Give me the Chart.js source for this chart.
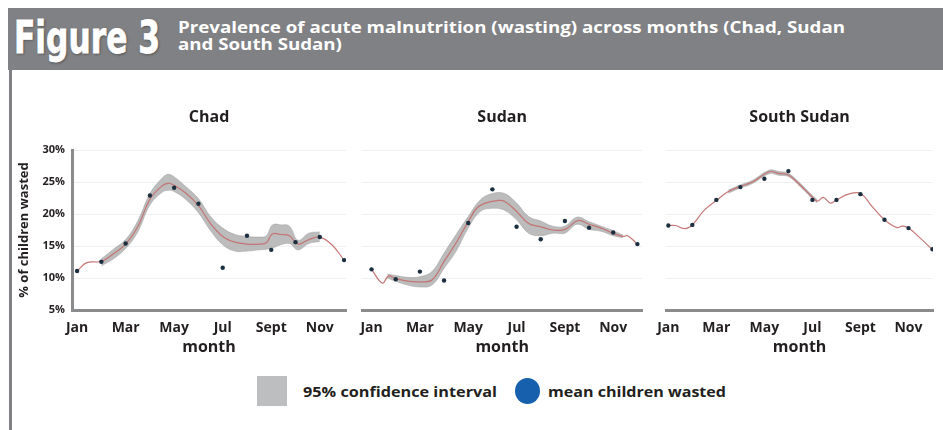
<!DOCTYPE html>
<html>
<head>
<meta charset="utf-8">
<script src="https://cdn.jsdelivr.net/npm/chart.js@4.4.1/dist/chart.umd.min.js"></script>
<style>
  html, body { margin:0; padding:0; background:#fff; }
  body { width:943px; height:430px; position:relative; overflow:hidden; font-family:'Open Sans', sans-serif; color:#231f20; }
  #band { position:absolute; left:8px; top:8px; right:0; height:62px; background:#808184; }
  #vline { position:absolute; left:9px; top:70px; width:3px; height:360px; background:#808184; }
  #fig { position:absolute; left:14px; top:16px; font-family:'Liberation Sans Narrow','DejaVu Sans Condensed',sans-serif; font-weight:bold; font-size:44px; line-height:44px; color:#fff; white-space:nowrap; transform-origin:0 0; text-shadow:1px 1px 3px rgba(0,0,0,0.45); -webkit-text-stroke:0.8px #fff; }
  #sub { position:absolute; left:178px; top:19px; font-weight:bold; font-size:16px; line-height:17px; color:#fff; white-space:nowrap; transform-origin:0 0; }
  canvas { position:absolute; }
  .leg { position:absolute; font-weight:bold; font-size:15px; line-height:20px; white-space:nowrap; transform-origin:0 50%; color:#231f20; }
</style>
</head>
<body>
<div id="band"></div>
<div id="vline"></div>
<div id="fig">Figure 3</div>
<div id="sub"><span id="sub1">Prevalence of acute malnutrition (wasting) across months (Chad, Sudan</span><br><span>and South Sudan)</span></div>

<canvas id="cChad" width="350" height="270" style="left:0px;top:90px;width:350px;height:270px"></canvas>
<canvas id="cSudan" width="296" height="270" style="left:350px;top:90px;width:296px;height:270px"></canvas>
<canvas id="cSouth" width="296" height="270" style="left:647px;top:90px;width:296px;height:270px"></canvas>

<div style="position:absolute;left:257px;top:376px;width:30px;height:30px;background:#bcbec0"></div>
<div class="leg" id="leg1" style="left:303px;top:381px">95% confidence interval</div>
<div style="position:absolute;left:515px;top:378px;width:25px;height:26px;border-radius:50%;background:#1660ad"></div>
<div class="leg" id="leg2" style="left:548px;top:381px">mean children wasted</div>

<script>
// ---------- DATA ----------
const months = [1,2,3,4,5,6,7,8,9,10,11,12];
const monthTicks = [1,3,5,7,9,11];
const monthLabels = ['Jan','Mar','May','Jul','Sept','Nov'];
const yTicks = [5,10,15,20,25,30];

// Chad
const chadMeans = [11.1, 12.55, 15.4, 22.9, 24.1, 21.6, 11.6, 16.6, 14.4, 15.6, 16.4, 12.8];
const chadLineX = [1, 1.4, 2, 2.5, 3, 3.5, 4, 4.5, 4.75, 5, 5.5, 6, 6.5, 7, 7.5, 8, 8.5, 8.8, 9.05, 9.4, 9.75, 10.1, 10.55, 11, 11.5, 12];
const chadLine  = [11.1, 12.4, 12.6, 13.8, 15.3, 18.0, 22.3, 24.4, 24.8, 24.5, 23.2, 21.3, 18.5, 16.5, 15.6, 15.3, 15.3, 15.5, 16.9, 16.8, 16.6, 15.3, 16.0, 16.4, 15.2, 12.8];
const chadBandX = [2, 2.5, 3, 3.5, 4, 4.5, 4.75, 5, 5.5, 6, 6.5, 7, 7.5, 8, 8.5, 8.8, 9.05, 9.4, 9.75, 10.1, 10.55, 11];
const chadLow   = [11.9, 13.0, 14.6, 17.2, 21.4, 23.4, 23.7, 23.5, 22.2, 20.2, 17.4, 15.2, 14.2, 14.2, 14.4, 14.5, 14.7, 15.2, 15.4, 14.4, 15.4, 15.7];
const chadHigh  = [13.0, 14.5, 16.0, 18.9, 23.2, 25.6, 26.2, 25.8, 24.2, 22.4, 19.6, 17.8, 16.8, 16.5, 16.4, 16.6, 18.3, 18.3, 18.1, 15.9, 17.0, 17.2];

// Sudan
const sudanMeans = [11.35, 9.8, 11.0, 9.6, 18.6, 23.85, 18.0, 16.05, 18.9, 17.85, 17.1, 15.3];
const sudanLineX = [1, 1.45, 1.7, 2, 2.5, 3, 3.5, 4, 4.45, 5, 5.35, 5.7, 6.2, 6.5, 7, 7.5, 8, 8.5, 9, 9.55, 10, 10.5, 11, 11.4, 11.6, 12];
const sudanLine  = [11.35, 9.2, 10.3, 9.9, 9.5, 9.4, 9.7, 12.6, 15.2, 18.8, 20.9, 21.7, 22.1, 22.0, 20.4, 18.5, 18.0, 17.5, 17.6, 19.0, 18.4, 17.8, 17.0, 16.5, 16.6, 15.3];
const sudanBandX = [1.65, 2, 2.5, 3, 3.5, 4, 4.5, 5, 5.5, 6, 6.5, 7, 7.5, 8, 8.5, 9, 9.5, 10, 10.5, 11, 11.4];
const sudanLow   = [10.0, 9.5, 8.9, 8.6, 8.9, 11.5, 14.2, 17.8, 20.4, 20.9, 20.6, 19.1, 17.0, 16.6, 17.0, 17.0, 18.4, 17.6, 17.3, 16.6, 16.3];
const sudanHigh  = [10.6, 10.4, 10.1, 10.2, 11.0, 13.9, 16.8, 19.6, 22.2, 23.2, 23.2, 21.7, 19.6, 18.9, 18.1, 18.1, 19.5, 18.8, 18.1, 17.4, 16.7];

// South Sudan
const southMeans = [18.2, 18.3, 22.2, 24.2, 25.5, 26.7, 22.2, 22.2, 23.1, 19.1, 17.8, 14.5];
const southLineX = [1, 1.3, 1.7, 2, 2.5, 3, 3.5, 4, 4.5, 5.2, 5.6, 6, 6.5, 6.9, 7.2, 7.45, 7.75, 8, 8.5, 9, 9.5, 10, 10.5, 10.75, 11, 11.5, 12];
const southLine  = [18.2, 18.2, 17.7, 18.3, 20.6, 22.1, 23.5, 24.3, 25.0, 26.6, 26.35, 26.1, 24.5, 23.0, 22.0, 22.6, 21.7, 22.2, 23.1, 23.2, 21.1, 19.1, 17.9, 18.1, 17.8, 16.2, 14.4];
const southBandX = [3.5, 4, 4.5, 5.2, 5.6, 6, 6.5, 6.9, 7.2];
const southLow   = [23.25, 24.05, 24.75, 26.3, 26.05, 25.85, 24.25, 22.75, 21.75];
const southHigh  = [23.75, 24.55, 25.25, 26.85, 26.65, 26.35, 24.75, 23.25, 22.25];

// ---------- CHARTS ----------
Chart.defaults.font.family = "'Open Sans', sans-serif";
Chart.defaults.color = '#231f20';
Chart.defaults.animation = false;

const pts = (xs, ys) => xs.map((x, i) => ({x: x, y: ys[i]}));
const TXT = '#231f20';
const AXIS = '#8a8b8d';

function panel(id, p) {
  return new Chart(document.getElementById(id), {
    type: 'line',
    data: {
      datasets: [
        { data: pts(months, p.means), showLine: false, pointRadius: 2.2, pointBackgroundColor: '#1b2f40', pointBorderWidth: 0, fill: false },
        { data: pts(p.lineX, p.line), borderColor: 'rgba(196,112,112,0.95)', borderWidth: 1.2, pointRadius: 0, tension: 0.4, fill: false },
        { data: pts(p.bandX, p.high), borderColor: 'rgba(150,150,150,0.6)', borderWidth: 0.8, pointRadius: 0, tension: 0.4, fill: '+1', backgroundColor: 'rgba(160,160,160,0.7)' },
        { data: pts(p.bandX, p.low), borderColor: 'rgba(150,150,150,0.6)', borderWidth: 0.8, pointRadius: 0, tension: 0.4, fill: false }
      ]
    },
    options: {
      responsive: false,
      devicePixelRatio: 1,
      animation: false,
      layout: { padding: { left: 0, right: p.padRight, top: 0, bottom: 0 } },
      plugins: {
        legend: { display: false },
        tooltip: { enabled: false },
        title: { display: true, text: p.title, fullSize: false, color: TXT, font: { size: 16, weight: 'bold', lineHeight: 1 }, padding: { top: 19, bottom: 25 } }
      },
      scales: {
        x: {
          type: 'linear', min: p.xMin, max: p.xMax,
          afterBuildTicks: s => { s.ticks = monthTicks.map(v => ({ value: v })); },
          afterFit: s => { s.height = 50; },
          ticks: { autoSkip: false, maxRotation: 0, padding: 10, color: TXT, font: { size: 14, weight: 'bold' },
                   callback: v => monthLabels[monthTicks.indexOf(v)] },
          grid: { display: false, drawTicks: false },
          border: { display: true, color: AXIS, width: 3 },
          title: { display: true, text: 'month', color: TXT, font: { size: 16, weight: 'bold' }, padding: { top: 0, bottom: 3 } }
        },
        y: {
          min: 5, max: 30,
          afterBuildTicks: s => { s.ticks = yTicks.map(v => ({ value: v })); },
          afterFit: s => { s.width = p.yWidth; },
          ticks: { display: p.showY, padding: 7, color: TXT, font: { size: 11, weight: 'bold' }, callback: v => v + '%' },
          grid: { color: '#f0f0f0', lineWidth: 1, drawTicks: false },
          border: { display: p.showY, color: AXIS, width: 3 },
          title: { display: p.showY, text: '% of children wasted', color: TXT, font: { size: 13, weight: 'bold' }, padding: { top: 16, bottom: 0 } }
        }
      }
    }
  });
}

panel('cChad',  { title: 'Chad', means: chadMeans, lineX: chadLineX, line: chadLine, bandX: chadBandX, low: chadLow, high: chadHigh,
                  xMin: 0.79, xMax: 12.08, yWidth: 72, showY: true, padRight: 4 });
panel('cSudan', { title: 'Sudan', means: sudanMeans, lineX: sudanLineX, line: sudanLine, bandX: sudanBandX, low: sudanLow, high: sudanHigh,
                  xMin: 0.62, xMax: 12.19, yWidth: 10, showY: false, padRight: 4 });
panel('cSouth', { title: 'South Sudan', means: southMeans, lineX: southLineX, line: southLine, bandX: southBandX, low: southLow, high: southHigh,
                  xMin: 0.91, xMax: 12.02, yWidth: 10, showY: false, padRight: 10 });

// fit header / legend text widths
function fitX(el, measureEl, target) {
  const w = measureEl.getBoundingClientRect().width;
  if (w > 0) el.style.transform = 'scaleX(' + (target / w) + ')';
}
fitX(document.getElementById('fig'), document.getElementById('fig'), 146);
fitX(document.getElementById('sub'), document.getElementById('sub1'), 667);
fitX(document.getElementById('leg1'), document.getElementById('leg1'), 194);
fitX(document.getElementById('leg2'), document.getElementById('leg2'), 178);
</script>
</body>
</html>
